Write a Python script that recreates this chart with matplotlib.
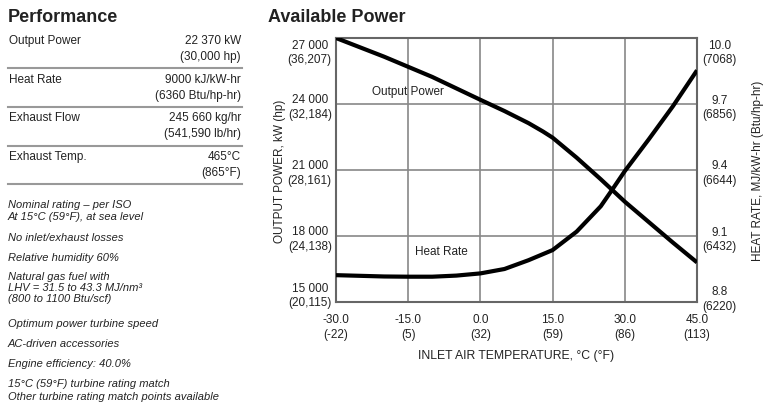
import matplotlib.pyplot as plt
import matplotlib.transforms as mtransforms
from matplotlib.lines import Line2D

plt.rcParams['font.family'] = ['Liberation Sans', 'DejaVu Sans']

# inlet temperature (C) and curves
temp_power = [-30, -20, -10, 0, 5, 10, 13, 15, 20, 25, 30, 35, 40, 45]
output_power = [27000, 26150, 25230, 24190, 23680, 23130, 22750, 22470,
                21560, 20580, 19560, 18630, 17700, 16800]
temp_hr = [-30, -20, -15, -10, -5, 0, 5, 10, 15, 20, 25, 27.4, 30, 35, 40, 45]
heat_rate = [8.922, 8.916, 8.915, 8.915, 8.92, 8.93, 8.95, 8.99, 9.036,
             9.12, 9.235, 9.311, 9.395, 9.54, 9.69, 9.853]

x_ticks = [-30, -15, 0, 15, 30, 45]
x_labels = ['-30.0\n(-22)', '-15.0\n(5)', '0.0\n(32)', '15.0\n(59)',
            '30.0\n(86)', '45.0\n(113)']
kw_ticks = [15000, 18000, 21000, 24000, 27000]
kw_labels = ['15 000\n(20,115)', '18 000\n(24,138)', '21 000\n(28,161)',
             '24 000\n(32,184)', '27 000\n(36,207)']
hr_ticks = [8.8, 9.1, 9.4, 9.7, 10.0]
hr_labels = ['8.8\n(6220)', '9.1\n(6432)', '9.4\n(6644)', '9.7\n(6856)',
             '10.0\n(7068)']

perf_rows = [('Output Power', '22 370 kW', '(30,000 hp)'),
             ('Heat Rate', '9000 kJ/kW-hr', '(6360 Btu/hp-hr)'),
             ('Exhaust Flow', '245 660 kg/hr', '(541,590 lb/hr)'),
             ('Exhaust Temp.', '465°C', '(865°F)')]
notes = [('Nominal rating – per ISO', 205), ('At 15°C (59°F), at sea level', 217),
         ('No inlet/exhaust losses', 238), ('Relative humidity 60%', 258),
         ('Natural gas fuel with', 277), ('LHV = 31.5 to 43.3 MJ/nm³', 288),
         ('(800 to 1100 Btu/scf)', 299), ('Optimum power turbine speed', 324),
         ('AC-driven accessories', 344), ('Engine efficiency: 40.0%', 364),
         ('15°C (59°F) turbine rating match', 384),
         ('Other turbine rating match points available', 397)]

W, H = 770, 406
txt = '#222222'


def fx(x):
    return x / W


def fy(y):
    return 1 - y / H


def shift(label, fig, dy_pt):
    label.set_transform(label.get_transform() +
                        mtransforms.ScaledTranslation(0, dy_pt / 72, fig.dpi_scale_trans))


def main():
    fig = plt.figure(figsize=(7.7, 4.06), dpi=100)

    # left panel: performance table
    fig.text(fx(8), fy(17), 'Performance', fontsize=13, fontweight='bold',
             color=txt, va='center')
    row_y = [41, 80, 118, 157]
    for (name, v1, v2), y in zip(perf_rows, row_y):
        fig.text(fx(9), fy(y), name, fontsize=8.5, color=txt, va='center')
        fig.text(fx(241), fy(y), v1, fontsize=8.5, color=txt, va='center', ha='right')
        fig.text(fx(241), fy(y + 16), v2, fontsize=8.5, color=txt, va='center', ha='right')
    for y in [69, 108, 147, 185]:
        fig.add_artist(Line2D([fx(8), fx(242)], [fy(y), fy(y)], color='#999999',
                              lw=1.5, transform=fig.transFigure))
    for note, y in notes:
        fig.text(fx(8), fy(y), note, fontsize=8, style='italic', color=txt, va='center')

    # right panel: chart
    fig.text(fx(268), fy(17), 'Available Power', fontsize=13, fontweight='bold',
             color=txt, va='center')
    ax = fig.add_axes([fx(336), fy(303), fx(697 - 336), (303 - 39) / H])
    ax.plot(temp_power, output_power, color='black', lw=3, solid_capstyle='butt', zorder=3)
    ax.set_xlim(-30, 45)
    ax.set_ylim(15000, 27000)
    ax.set_xticks(x_ticks)
    ax.set_xticklabels(x_labels, fontsize=8.5, color=txt, linespacing=1.35)
    ax.set_yticks(kw_ticks)
    ax.set_yticklabels(kw_labels, fontsize=8.5, color=txt, multialignment='center',
                       linespacing=1.3)
    ax.tick_params(axis='y', length=0, pad=3)
    ax.tick_params(axis='x', length=0, pad=8)
    ax.grid(True, color='#888888', lw=1.2)
    ax.set_axisbelow(True)
    for s in ax.spines.values():
        s.set_color('#666666')
        s.set_linewidth(1.5)
    ax.set_xlabel('INLET AIR TEMPERATURE, °C (°F)', fontsize=8.8, color=txt, labelpad=6)
    ax.set_ylabel('OUTPUT POWER, kW (hp)', fontsize=8.5, color=txt, labelpad=1)
    ax.text(-15, 24600, 'Output Power', fontsize=8.5, color=txt, ha='center', va='center')
    ax.text(-8.2, 17300, 'Heat Rate', fontsize=8.5, color=txt, ha='center', va='center')

    ax2 = ax.twinx()
    ax2.plot(temp_hr, heat_rate, color='black', lw=3, solid_capstyle='butt', zorder=3)
    ax2.set_ylim(8.8, 10.0)
    ax2.set_yticks(hr_ticks)
    ax2.set_yticklabels(hr_labels, fontsize=8.5, color=txt, multialignment='center',
                        linespacing=1.3)
    ax2.tick_params(length=0, pad=4)
    for s in ax2.spines.values():
        s.set_visible(False)
    ax2.set_ylabel('HEAT RATE, MJ/kW-hr (Btu/hp-hr)', fontsize=8.5, color=txt, labelpad=11)

    # end labels sit inside the plot height, as in the original
    ylabs = ax.get_yticklabels()
    shift(ylabs[-1], fig, -8)
    shift(ylabs[0], fig, 7)
    rlabs = ax2.get_yticklabels()
    shift(rlabs[-1], fig, -8)
    shift(rlabs[0], fig, 4.5)

    fig.savefig('out.png', dpi=100)


if __name__ == '__main__':
    main()
